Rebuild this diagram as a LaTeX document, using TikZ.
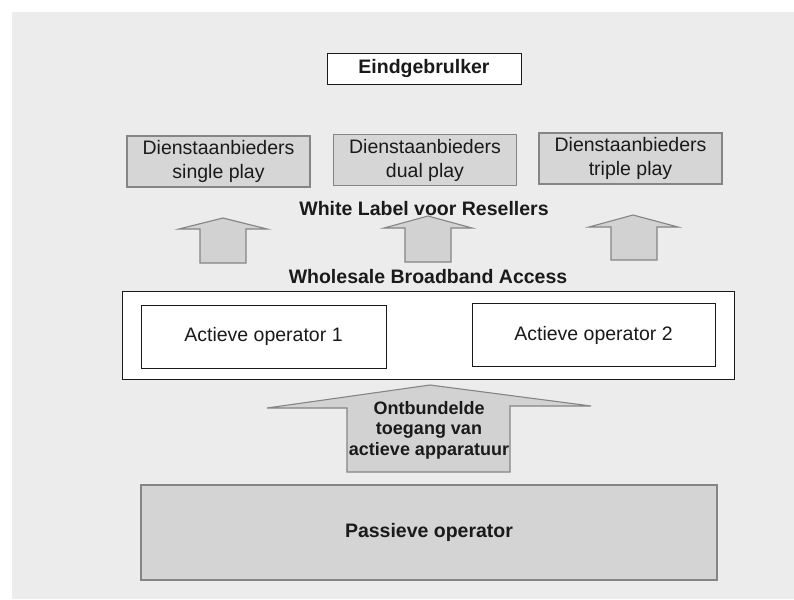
\documentclass[tikz,border=0pt]{standalone}
\usepackage{fontspec}
\setmainfont{Liberation Sans}
\definecolor{bggray}{HTML}{ECECEC}
\definecolor{svcfill}{HTML}{D6D6D6}
\definecolor{boxline}{HTML}{858585}
\definecolor{arrfill}{HTML}{D2D2D2}
\definecolor{passfill}{HTML}{D4D4D4}
\definecolor{inkc}{HTML}{1A1A1A}
\begin{document}
\begin{tikzpicture}[x=1pt,y=-1pt,
  every node/.style={text=inkc},
  svc/.style={draw=boxline,fill=svcfill,line width=1.1pt,minimum width=183pt,minimum height=51pt,inner sep=0pt,align=center,font=\fontsize{19.5}{24}\selectfont},
  whitebox/.style={draw=inkc,fill=white,line width=0.8pt,inner sep=0pt},
  opbox/.style={whitebox,minimum width=244pt,minimum height=63pt,font=\fontsize{19.5}{22}\selectfont},
  lbl/.style={font=\bfseries\fontsize{19.5}{22}\selectfont,inner sep=0pt},
  blockarrow/.style={draw=boxline,fill=arrfill,line width=1.1pt,line join=miter}
]
\useasboundingbox (0,0) rectangle (794,599);
\fill[white] (0,0) rectangle (794,599);
\fill[bggray] (12,12) rectangle (794,599);

% top
\node[whitebox,minimum width=194pt,minimum height=31pt,font=\bfseries\fontsize{19.5}{22}\selectfont] (eind) at (424,68.5) {Eindgebrulker};

% service providers
\node[svc] (s1) at (218.5,161.5) {Dienstaanbieders\\single play};
\node[svc] (s2) at (425,160) {Dienstaanbieders\\dual play};
\node[svc] (s3) at (630.5,158.5) {Dienstaanbieders\\triple play};

\node[lbl] (wl) at (424,209) {White Label voor Resellers};

% small block arrows
\draw[blockarrow] (200,263) -- (200,229) -- (179,229) -- (223,218) -- (267,229) -- (246,229) -- (246,263) -- cycle;
\draw[blockarrow] (405,262) -- (405,228) -- (384,228) -- (428,216) -- (472,228) -- (451,228) -- (451,262) -- cycle;
\draw[blockarrow] (611,260) -- (611,227) -- (589,227) -- (633,215) -- (678,227) -- (657,227) -- (657,260) -- cycle;

\node[lbl] (wba) at (428,277) {Wholesale Broadband Access};

% active operators
\node[whitebox,minimum width=612pt,minimum height=88pt] (act) at (428,335) {};
\node[opbox,minimum width=245pt] (a1) at (263.5,336.5) {Actieve operator 1};
\node[opbox,minimum width=243pt] (a2) at (593.5,335) {Actieve operator 2};

% big block arrow
\draw[blockarrow] (347,472) -- (347,408) -- (267,408) -- (430,385) -- (591,406) -- (510,406) -- (510,472) -- cycle;
\node[font=\bfseries\fontsize{18}{20.5}\selectfont,align=center,inner sep=0pt] (unb) at (429,430) {Ontbundelde\\toegang van\\actieve apparatuur};

% passive operator
\node[draw=boxline,fill=passfill,line width=1.1pt,minimum width=576pt,minimum height=95pt,inner sep=0pt,font=\bfseries\fontsize{19.5}{22}\selectfont] (pass) at (429,532.5) {Passieve operator};
\end{tikzpicture}
\end{document}
